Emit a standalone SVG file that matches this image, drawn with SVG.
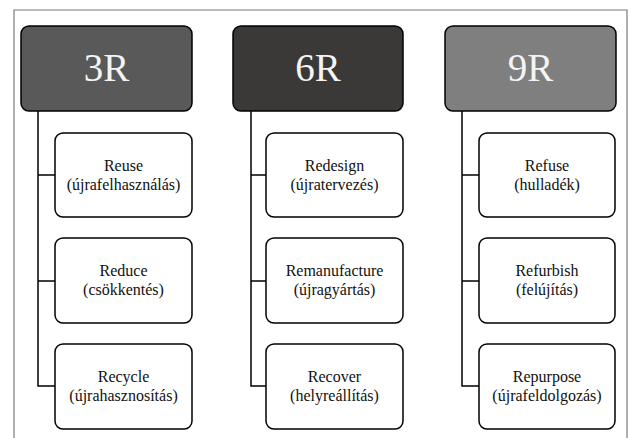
<svg xmlns="http://www.w3.org/2000/svg" width="630" height="438" viewBox="0 0 630 438">
<style>
.frame{fill:none;stroke:#7a7a7a;stroke-width:1.2}
.hdr{stroke:#000;stroke-width:1.5}
.child{fill:#fff;stroke:#000;stroke-width:1.5}
.conn{fill:none;stroke:#000;stroke-width:1.5}
.ht{font-family:"Liberation Serif","Times New Roman",serif;font-size:39px;fill:#f4f4f4;text-anchor:middle}
.ct{font-family:"Liberation Serif","Times New Roman",serif;font-size:16px;fill:#111;text-anchor:middle}
</style>
<rect width="630" height="438" fill="#fff"/>
<path class="frame" d="M14,440 V10 H627 V440"/>
<g id="connectors">
<path class="conn" d="M38,111 V386 H55 M38,175 H55 M38,281 H55"/>
<path class="conn" d="M251,111 V386 H266 M251,175 H266 M251,281 H266"/>
<path class="conn" d="M462,111 V386 H479 M462,175 H479 M462,281 H479"/>
</g>
<g id="n3R"><rect class="hdr" x="21" y="26" width="171" height="85" rx="8" fill="#595959"/><text class="ht" x="106.5" y="81">3R</text></g>
<g id="n6R"><rect class="hdr" x="233" y="26" width="170" height="85" rx="8" fill="#3b3838"/><text class="ht" x="318" y="81">6R</text></g>
<g id="n9R"><rect class="hdr" x="445" y="26" width="171" height="85" rx="8" fill="#7f7f7f"/><text class="ht" x="530.5" y="81">9R</text></g>
<g id="reuse"><rect class="child" x="55" y="133" width="137" height="84" rx="8"/><text class="ct" x="123.5" y="171">Reuse</text><text class="ct" x="123.5" y="189.5">(újrafelhasználás)</text></g>
<g id="reduce"><rect class="child" x="55" y="238" width="137" height="85" rx="8"/><text class="ct" x="123.5" y="276">Reduce</text><text class="ct" x="123.5" y="294.5">(csökkentés)</text></g>
<g id="recycle"><rect class="child" x="55" y="344" width="137" height="85" rx="8"/><text class="ct" x="123.5" y="382">Recycle</text><text class="ct" x="123.5" y="400.5">(újrahasznosítás)</text></g>
<g id="redesign"><rect class="child" x="266" y="133" width="137" height="84" rx="8"/><text class="ct" x="334.5" y="171">Redesign</text><text class="ct" x="334.5" y="189.5">(újratervezés)</text></g>
<g id="remanufacture"><rect class="child" x="266" y="238" width="137" height="85" rx="8"/><text class="ct" x="334.5" y="276">Remanufacture</text><text class="ct" x="334.5" y="294.5">(újragyártás)</text></g>
<g id="recover"><rect class="child" x="266" y="344" width="137" height="85" rx="8"/><text class="ct" x="334.5" y="382">Recover</text><text class="ct" x="334.5" y="400.5">(helyreállítás)</text></g>
<g id="refuse"><rect class="child" x="479" y="133" width="136" height="84" rx="8"/><text class="ct" x="547" y="171">Refuse</text><text class="ct" x="547" y="189.5">(hulladék)</text></g>
<g id="refurbish"><rect class="child" x="479" y="238" width="136" height="85" rx="8"/><text class="ct" x="547" y="276">Refurbish</text><text class="ct" x="547" y="294.5">(felújítás)</text></g>
<g id="repurpose"><rect class="child" x="479" y="344" width="136" height="85" rx="8"/><text class="ct" x="547" y="382">Repurpose</text><text class="ct" x="547" y="400.5">(újrafeldolgozás)</text></g>
</svg>
